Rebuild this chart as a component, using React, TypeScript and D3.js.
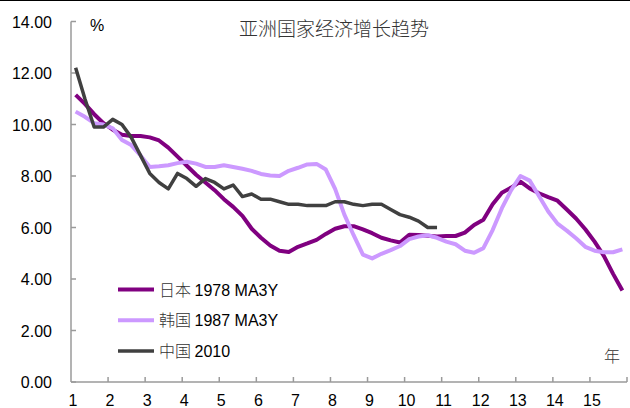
import * as d3 from 'd3';
import React, {useEffect, useRef} from 'react';

// quarterly points, 4 per year
const japan = [
  11.15, 10.8, 10.4, 10.05, 9.8, 9.6, 9.55, 9.55, 9.5, 9.38,
  9.1, 8.75, 8.4, 8.05, 7.75, 7.45, 7.1, 6.8, 6.45, 5.95,
  5.6, 5.3, 5.1, 5.05, 5.25, 5.38, 5.52, 5.75, 5.95, 6.05,
  6.05, 5.93, 5.78, 5.6, 5.5, 5.42, 5.72, 5.71, 5.68, 5.65,
  5.67, 5.67, 5.8, 6.1, 6.3, 6.9, 7.35, 7.55, 7.78, 7.52,
  7.33, 7.18, 7.04, 6.7, 6.35, 5.93, 5.45, 4.9, 4.2, 3.55
];
const korea = [
  10.5, 10.3, 10.05, 10.0, 9.85, 9.4, 9.2, 8.8, 8.35, 8.38,
  8.42, 8.5, 8.55, 8.48, 8.35, 8.35, 8.42, 8.35, 8.28, 8.2,
  8.08, 8.02, 8.0, 8.2, 8.32, 8.45, 8.47, 8.25, 7.5, 6.5,
  5.7, 4.95, 4.8, 4.98, 5.12, 5.28, 5.55, 5.65, 5.7, 5.6,
  5.45, 5.35, 5.1, 5.02, 5.2, 5.9, 6.75, 7.45, 8.0, 7.82,
  7.22, 6.62, 6.15, 5.88, 5.58, 5.25, 5.1, 5.04, 5.04, 5.15
];
const china = [
  12.2, 11.0, 9.9, 9.9, 10.2, 10.0, 9.5, 8.8, 8.1, 7.75,
  7.5, 8.1, 7.9, 7.6, 7.9, 7.75, 7.5, 7.65, 7.2, 7.3,
  7.1, 7.1, 7.0, 6.9, 6.9, 6.85, 6.85, 6.85, 7.0, 7.0,
  6.9, 6.85, 6.9, 6.9, 6.7, 6.5, 6.4, 6.25, 6.0, 6.0
];
const years = d3.range(1, 16);
const yTicks = [0, 2, 4, 6, 8, 10, 12, 14];

const series = [
  {name: '日本 1978 MA3Y', values: japan, color: '#800080', width: 4},
  {name: '韩国 1987 MA3Y', values: korea, color: '#CC99FF', width: 4},
  {name: '中国 2010', values: china, color: '#404040', width: 3.5}
];

const W = 630, H = 408;

function App() {
  const ref = useRef(null);

  useEffect(() => {
    const svg = d3.select(ref.current);
    svg.selectAll('*').remove();

    const x = d3.scaleLinear().domain([0, 60]).range([71, 627]);
    const y = d3.scaleLinear().domain([0, 14]).range([382, 21.5]);
    const axisColor = '#9a9a9a';
    const font = 'Arial, "Liberation Sans", sans-serif';

    svg.append('line')
        .attr('x1', 0).attr('x2', W).attr('y1', 0.5).attr('y2', 0.5)
        .attr('stroke', '#000');

    // y axis
    svg.append('line')
        .attr('x1', 71).attr('x2', 71)
        .attr('y1', y(14)).attr('y2', y(0))
        .attr('stroke', axisColor).attr('stroke-width', 1.5);
    svg.selectAll('line.ytick').data(yTicks).enter().append('line')
        .attr('class', 'ytick')
        .attr('x1', 71).attr('x2', 76)
        .attr('y1', d => y(d)).attr('y2', d => y(d))
        .attr('stroke', axisColor).attr('stroke-width', 1.5);
    svg.selectAll('text.ylab').data(yTicks).enter().append('text')
        .attr('class', 'ylab')
        .attr('x', 52).attr('y', d => y(d) + 6)
        .attr('text-anchor', 'end')
        .attr('font-family', font).attr('font-size', 16)
        .attr('fill', '#000')
        .text(d => d.toFixed(2));

    // x axis
    svg.append('line')
        .attr('x1', 71).attr('x2', x(60))
        .attr('y1', y(0)).attr('y2', y(0))
        .attr('stroke', axisColor).attr('stroke-width', 1.5);
    svg.selectAll('line.xtick').data(d3.range(1, 16)).enter().append('line')
        .attr('class', 'xtick')
        .attr('x1', d => x(d * 4)).attr('x2', d => x(d * 4))
        .attr('y1', y(0)).attr('y2', y(0) - 5)
        .attr('stroke', axisColor).attr('stroke-width', 1.5);
    svg.selectAll('text.xlab').data(years).enter().append('text')
        .attr('class', 'xlab')
        .attr('x', d => x((d - 1) * 4) + 2).attr('y', 406)
        .attr('text-anchor', 'middle')
        .attr('font-family', font).attr('font-size', 16)
        .attr('fill', '#000')
        .text(d => d);

    // lines
    const line = d3.line()
        .x((d, i) => x(i + 0.5))
        .y(d => y(d));
    series.forEach(s => {
      svg.append('path')
          .datum(s.values)
          .attr('d', line)
          .attr('fill', 'none')
          .attr('stroke', s.color)
          .attr('stroke-width', s.width)
          .attr('stroke-linejoin', 'round');
    });

    // texts
    svg.append('text')
        .attr('x', 334).attr('y', 36)
        .attr('text-anchor', 'middle')
        .attr('font-family', '"Noto Sans CJK SC", sans-serif')
        .attr('font-size', 19).attr('font-weight', 300)
        .attr('fill', '#333')
        .text('亚洲国家经济增长趋势');
    svg.append('text')
        .attr('x', 90).attr('y', 31)
        .attr('font-family', font).attr('font-size', 16)
        .text('%');
    svg.append('text')
        .attr('x', 604).attr('y', 362)
        .attr('font-family', '"Noto Sans CJK SC", sans-serif')
        .attr('font-size', 16).attr('font-weight', 300)
        .attr('fill', '#333')
        .text('年');

    // legend
    const lg = svg.append('g');
    series.forEach((s, i) => {
      const ly = 289.5 + i * 30.7;
      lg.append('line')
          .attr('x1', 118).attr('x2', 154)
          .attr('y1', ly).attr('y2', ly)
          .attr('stroke', s.color).attr('stroke-width', s.width);
      const parts = s.name.split(' ');
      const t = lg.append('text')
          .attr('x', 159).attr('y', ly + 6)
          .attr('font-size', 16).attr('fill', '#000');
      t.append('tspan')
          .attr('font-family', '"Noto Sans CJK SC", sans-serif')
          .attr('font-weight', 300).attr('fill', '#333')
          .text(parts[0] + ' ');
      t.append('tspan')
          .attr('font-family', font)
          .text(parts.slice(1).join(' '));
    });
  }, []);

  return (
      <svg ref={ref} width={W} height={H}
           style={{position: 'absolute', left: 0, top: 0, background: '#fff'}}/>
  );
}

export default App;
